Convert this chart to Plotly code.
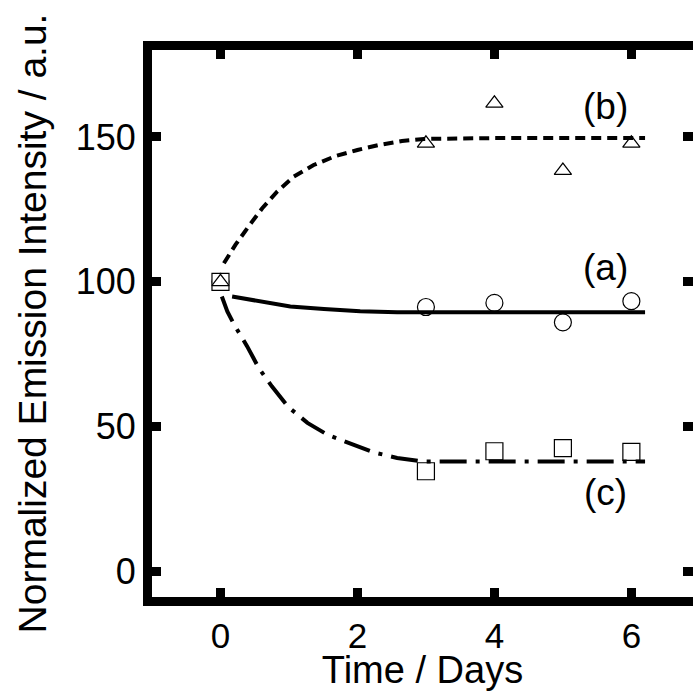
import plotly.graph_objects as go

# measured emission intensities (normalized to day 0)
days = [0, 3, 4, 5, 6]
a_points = [100, 91.3, 92.7, 86.0, 93.3]
b_points = [100, 147.8, 161.6, 138.4, 147.8]
c_points = [100, 34.6, 41.5, 42.6, 41.3]

# fitted curves
a_fit_x = [0.17, 0.58, 1.02, 1.51, 2.04, 2.58, 3.0, 4.0, 5.0, 6.2]
a_fit_y = [94.9, 93.2, 91.5, 90.6, 89.8, 89.5, 89.5, 89.5, 89.5, 89.5]
b_fit_x = [0.05, 0.22, 0.41, 0.61, 0.83, 1.07, 1.36, 1.68, 2.0, 2.31, 2.65, 2.97, 4.0, 5.0, 6.2]
b_fit_y = [106.4, 112.8, 119.1, 125.4, 131.2, 136.3, 140.3, 143.4, 145.5, 147.2, 148.6, 149.3, 149.6, 149.6, 149.6]
c_fit_x = [0.02, 0.1, 0.2, 0.39, 0.56, 0.75, 0.99, 1.27, 1.57, 1.9, 2.24, 2.58, 2.94, 4.0, 5.0, 6.2]
c_fit_y = [94.9, 89.8, 85.2, 77.7, 70.2, 63.9, 56.8, 51.3, 47.1, 44.1, 41.1, 39.2, 38.0, 38.0, 38.0, 38.0]

x_ticks = [0, 2, 4, 6]
y_ticks = [0, 50, 100, 150]
labels = ["(a)", "(b)", "(c)"]

FONT = "Liberation Sans, Arial, sans-serif"

fig = go.Figure()

# markers first so the fit lines sit on top of them
fig.add_trace(go.Scatter(x=days, y=a_points, mode="markers",
                         marker=dict(symbol="circle", size=17, color="white",
                                     line=dict(color="black", width=1.2))))
fig.add_trace(go.Scatter(x=days, y=c_points, mode="markers",
                         marker=dict(symbol="square", size=17, color="white",
                                     line=dict(color="black", width=1.2))))
fig.add_trace(go.Scatter(x=days, y=b_points, mode="markers",
                         marker=dict(symbol="triangle-up", size=15, color="white",
                                     line=dict(color="black", width=1.2))))

fig.add_trace(go.Scatter(x=a_fit_x, y=a_fit_y, mode="lines",
                         line=dict(color="black", width=4)))
fig.add_trace(go.Scatter(x=b_fit_x, y=b_fit_y, mode="lines",
                         line=dict(color="black", width=4, dash="10px,6px")))
fig.add_trace(go.Scatter(x=c_fit_x, y=c_fit_y, mode="lines", yaxis="y2",
                         line=dict(color="black", width=4, dash="27px,9px,4px,9px")))

# curve labels
label_pos = [(5.62, 104.8), (5.62, 160.4), (5.62, 27.2)]
for text, (lx, ly) in zip(labels, label_pos):
    fig.add_annotation(x=lx, y=ly, text=text, showarrow=False,
                       font=dict(family=FONT, size=37, color="black"))

yrange = [-8.8, 180]

fig.update_layout(
    width=693, height=691,
    margin=dict(l=152, r=0, t=50, b=94),
    paper_bgcolor="white", plot_bgcolor="white",
    showlegend=False,
    font=dict(family=FONT, color="black"),
    xaxis=dict(
        range=[-1, 6.9], tickvals=x_ticks, ticks="inside", ticklen=9, tickwidth=9,
        tickcolor="black", showline=True, linewidth=9, linecolor="black",
        mirror="ticks", showgrid=False, zeroline=False,
        tickfont=dict(size=35), ticklabelstandoff=0,
        title=dict(text="Time / Days", font=dict(size=38), standoff=5),
    ),
    yaxis=dict(
        range=yrange, tickvals=y_ticks, ticks="inside", ticklen=9, tickwidth=9,
        tickcolor="black", showline=True, linewidth=9, linecolor="black",
        mirror=False, showgrid=False, zeroline=False,
        tickfont=dict(size=36),
        title=dict(text="Normalized Emission Intensity / a.u.", font=dict(size=39), standoff=21),
    ),
    yaxis2=dict(
        range=yrange, tickvals=y_ticks, ticks="inside", ticklen=10, tickwidth=9,
        tickcolor="black", showline=False, overlaying="y", side="right",
        showticklabels=False, showgrid=False, zeroline=False,
    ),
)

# drop the browser's default 8px body margin so the figure sits at the page corner
fig.write_html("out.html", config={"displayModeBar": False},
               post_script="document.body.style.margin='0';")
